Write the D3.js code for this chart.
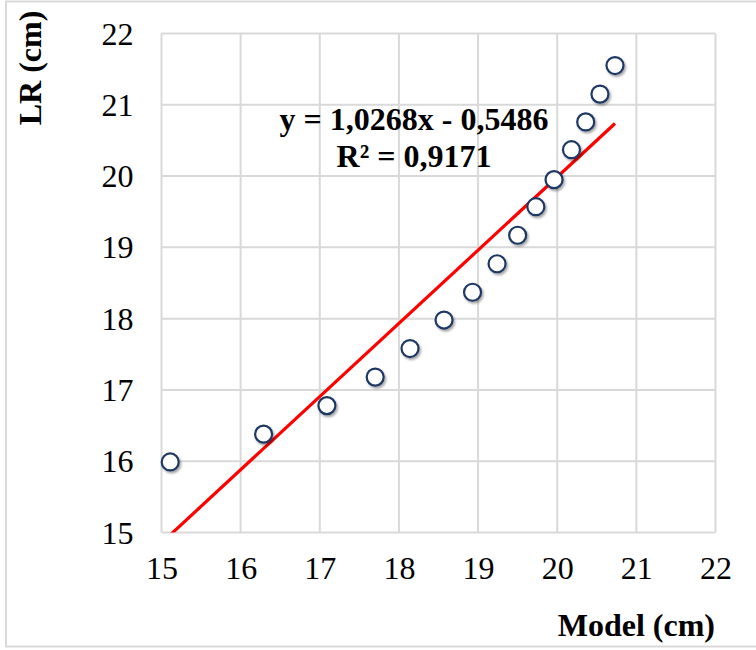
<!DOCTYPE html>
<html>
<head>
<meta charset="utf-8">
<script src="https://cdn.jsdelivr.net/npm/d3@7"></script>
<style>
  html, body { margin: 0; padding: 0; background: #fff; }
  svg { display: block; }
</style>
</head>
<body>
<svg id="chart" width="756" height="650"></svg>
<script>
const modelValues = [15.11, 16.29, 17.09, 17.70, 18.14, 18.57, 18.93, 19.24, 19.50, 19.73, 19.96, 20.18, 20.36, 20.54, 20.73];
const lrValues    = [15.99, 16.38, 16.78, 17.18, 17.58, 17.98, 18.37, 18.77, 19.17, 19.57, 19.95, 20.37, 20.76, 21.15, 21.55];
const xTicks = [15, 16, 17, 18, 19, 20, 21, 22];
const yTicks = [15, 16, 17, 18, 19, 20, 21, 22];
const slope = 1.0268, intercept = -0.5486;
const equationLines = ["y = 1,0268x - 0,5486", "R\u00b2 = 0,9171"];
const xTitle = "Model (cm)";
const yTitle = "LR (cm)";

const svg = d3.select("#chart");
const L = 161.5, R = 715.5, T = 33.5, B = 532.5;
const x = d3.scaleLinear().domain([15, 22]).range([L, R]);
const y = d3.scaleLinear().domain([15, 22]).range([B, T]);
const font = "'Liberation Serif', 'Times New Roman', serif";
const fs = 32;

// outer border
svg.append("rect").attr("x", 6).attr("y", 1.5).attr("width", 760).attr("height", 645)
  .attr("fill", "#fff").attr("stroke", "#d9d9d9").attr("stroke-width", 2);

const defs = svg.append("defs");
const f = defs.append("filter").attr("id", "shadow").attr("x", "-50%").attr("y", "-50%").attr("width", "200%").attr("height", "200%");
f.append("feDropShadow").attr("dx", 1.5).attr("dy", 2).attr("stdDeviation", 1.3).attr("flood-color", "#000").attr("flood-opacity", 0.35);
defs.append("clipPath").attr("id", "plotclip").append("rect")
  .attr("x", L).attr("y", T).attr("width", R - L).attr("height", B - T);

// gridlines
const grid = svg.append("g").attr("stroke", "#d9d9d9").attr("stroke-width", 2);
grid.selectAll("line.v").data(xTicks).join("line")
  .attr("x1", d => x(d)).attr("x2", d => x(d)).attr("y1", T).attr("y2", B);
grid.selectAll("line.h").data(yTicks).join("line")
  .attr("y1", d => y(d)).attr("y2", d => y(d)).attr("x1", L).attr("x2", R);

// axes with d3
const xAxis = svg.append("g").attr("transform", `translate(0,${B})`)
  .call(d3.axisBottom(x).tickValues(xTicks).tickSize(0).tickPadding(46).tickFormat(d3.format("d")));
xAxis.select(".domain").remove();
xAxis.selectAll("text").attr("font-family", font).attr("font-size", fs).attr("fill", "#000").attr("dy", 0);
const yAxis = svg.append("g").attr("transform", `translate(${L},0)`)
  .call(d3.axisLeft(y).tickValues(yTicks).tickSize(0).tickPadding(28).tickFormat(d3.format("d")));
yAxis.select(".domain").remove();
yAxis.selectAll("text").attr("font-family", font).attr("font-size", fs).attr("fill", "#000").attr("dy", "0.33em");

// trendline
const xMin = d3.min(modelValues), xMax = d3.max(modelValues);
svg.append("line").attr("clip-path", "url(#plotclip)")
  .attr("x1", x(xMin)).attr("y1", y(slope * xMin + intercept))
  .attr("x2", x(xMax)).attr("y2", y(slope * xMax + intercept))
  .attr("stroke", "#ff0000").attr("stroke-width", 3.2);

// points
const pts = modelValues.map((m, i) => ({ m, v: lrValues[i] }));
svg.append("g").selectAll("circle").data(pts).join("circle")
  .attr("cx", d => x(d.m)).attr("cy", d => y(d.v)).attr("r", 8.5)
  .attr("fill", "#fff").attr("stroke", "#1f3864").attr("stroke-width", 2.2)
  .attr("filter", "url(#shadow)");

// equation
svg.append("g").selectAll("text").data(equationLines).join("text")
  .attr("x", 414).attr("y", (d, i) => 130 + i * 37)
  .attr("text-anchor", "middle").attr("font-family", font).attr("font-weight", "bold")
  .attr("font-size", fs).attr("fill", "#000").text(d => d);

// titles
svg.append("text").attr("x", 715).attr("y", 636).attr("text-anchor", "end")
  .attr("font-family", font).attr("font-weight", "bold").attr("font-size", fs).text(xTitle);
svg.append("text").attr("transform", "translate(41,68) rotate(-90)").attr("text-anchor", "middle")
  .attr("font-family", font).attr("font-weight", "bold").attr("font-size", fs).text(yTitle);
</script>
</body>
</html>
